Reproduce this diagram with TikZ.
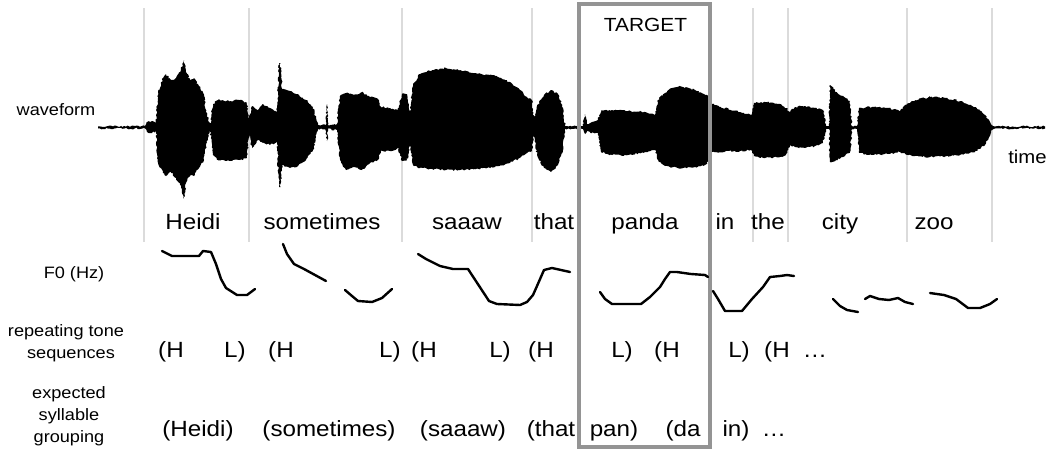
\documentclass[tikz,border=0pt]{standalone}
\usepackage{fontspec}
\setmainfont{Liberation Sans}[FakeStretch=1.1]
\usetikzlibrary{decorations.pathmorphing}
\begin{document}
\begin{tikzpicture}[x=1pt,y=-1pt,
  sepline/.style={draw=black!14, line width=1.6pt},
  bigtxt/.style={font=\fontsize{22}{26}\selectfont, anchor=base, inner sep=0pt},
  lbl/.style={font=\fontsize{16.5}{20}\selectfont, anchor=base, inner sep=0pt},
  contour/.style={draw=black, line width=2.4pt, line join=round, line cap=round},
  wave/.style={fill=black, decorate, decoration={random steps, segment length=1.6pt, amplitude=0.9pt}},
  targetbox/.style={draw=black!42, line width=4.5pt},
]
\pgfmathsetseed{11}
\useasboundingbox (0,0) rectangle (1056,455);

% separators
\foreach \xx in {144,249,402,532,753,788,907,992}
  \draw[sepline] (\xx,8) -- (\xx,242);

% waveform
\path[wave] (98,126.5) -- (145,126) -- (147,122) -- (152,121) -- (156,123) -- (158,92) -- (163,78) -- (166,74) -- (171,80) -- (176,78) -- (181,70) -- (184,60) -- (186,72) -- (190,80) -- (194,78) -- (199,86) -- (204,96) -- (207,115) -- (210,125) -- (213,104) -- (218,100) -- (230,101) -- (240,100) -- (247,103) -- (249,120) -- (252,106) -- (258,110) -- (263,104) -- (270,108) -- (277,112) -- (279,63) -- (280.5,63) -- (282,89) -- (290,91) -- (298,94) -- (306,100) -- (313,107) -- (316,118) -- (318,125) -- (326,125) -- (327,104) -- (328,125) -- (337,124) -- (340,96) -- (346,93) -- (354,95) -- (362,92) -- (370,97) -- (378,99) -- (381,107) -- (390,108) -- (398,110) -- (402,94) -- (407,94) -- (410,112) -- (413,84) -- (420,74) -- (432,70) -- (446,68) -- (460,70) -- (475,73) -- (495,76) -- (510,82) -- (520,90) -- (527,97) -- (532,100) -- (534,120) -- (537,106) -- (544,95) -- (551,90) -- (558,94) -- (563,108) -- (565,126) -- (583,126) -- (585,114) -- (587,124) -- (592,122) -- (598,120) -- (601,110) -- (612,110) -- (628,111) -- (645,112) -- (655,115) -- (658,100) -- (665,93) -- (672,88) -- (681,86.5) -- (695,90) -- (705,95) -- (710,97) -- (712,104) -- (725,108) -- (740,112) -- (751,115) -- (754,103) -- (765,102) -- (780,104) -- (786,108) -- (790,112) -- (795,107) -- (805,106) -- (815,108) -- (823,110) -- (826,126) -- (829,126) -- (830,85) -- (836,92) -- (843,96) -- (850,101) -- (852,126) -- (857,126) -- (859,108) -- (872,107) -- (888,108) -- (900,111) -- (905,105) -- (915,100) -- (930,97) -- (945,98) -- (960,101) -- (975,107) -- (985,115) -- (992,125) -- (995,126.5) -- (1045,126.5)
 -- (1045,128.5) -- (995,128.5) -- (992,130) -- (985,145) -- (975,152) -- (960,155) -- (945,156.5) -- (930,157) -- (915,156) -- (905,154) -- (900,152) -- (888,154) -- (872,155) -- (859,153) -- (857,129) -- (852,129) -- (850,152) -- (843,157) -- (836,160) -- (830,162) -- (829,129) -- (826,129) -- (823,143) -- (815,146) -- (805,148) -- (795,147) -- (790,145) -- (786,155) -- (780,157) -- (765,158) -- (754,156) -- (751,150) -- (740,151) -- (725,151.5) -- (712,152) -- (710,160) -- (705,165) -- (695,167) -- (681,168.5) -- (665,166) -- (658,160) -- (655,150) -- (645,152) -- (628,155) -- (612,155) -- (601,152) -- (598,133) -- (592,133) -- (587,131) -- (585,134) -- (583,129) -- (565,129) -- (563,150) -- (558,165) -- (551,172) -- (544,168) -- (537,155) -- (534,136) -- (532,151) -- (527,153) -- (520,158) -- (510,163) -- (495,167) -- (475,169) -- (460,170) -- (446,170) -- (432,169) -- (420,168) -- (413,165) -- (410,145) -- (407,160) -- (402,161) -- (398,148) -- (390,151) -- (381,151) -- (378,160) -- (370,163) -- (362,170) -- (354,167) -- (346,170) -- (340,160) -- (337,130) -- (328,129) -- (327,141) -- (326,129) -- (318,129) -- (316,137) -- (313,150) -- (306,160) -- (298,166) -- (290,168) -- (282,165) -- (280.5,187) -- (279,187) -- (277,142) -- (270,145) -- (263,143) -- (258,140) -- (252,148) -- (249,135) -- (247,158) -- (240,160) -- (230,161) -- (218,160) -- (213,155) -- (210,130) -- (207,142) -- (204,160) -- (199,168) -- (194,176) -- (190,175) -- (186,183) -- (184,199) -- (181,186) -- (176,178) -- (171,172) -- (166,176) -- (163,173) -- (158,163) -- (156,131) -- (152,133) -- (147,132) -- (145,128.5) -- (98,128.5) -- cycle;

% target box
\draw[targetbox] (579,4) rectangle (710,447);
\node[font=\fontsize{19}{22}\selectfont, anchor=base, inner sep=0pt] (target) at (645.5,31.5) {TARGET};

% left labels
\node[lbl] (labwave) at (56,115) {waveform};
\node[lbl] (labf0) at (74,278) {F0 (Hz)};
\node[lbl] (labrepA) at (66,336) {repeating tone};
\node[lbl] (labrepB) at (71,358) {sequences};
\node[lbl] (labexpA) at (69,398) {expected};
\node[lbl] (labexpB) at (69,420) {syllable};
\node[lbl] (labexpC) at (69,442) {grouping};
\node[font=\fontsize{18.5}{22}\selectfont, anchor=base, inner sep=0pt] (labtime) at (1027.5,163) {time};

% words
\node[bigtxt] (wHeidi) at (193,229) {Heidi};
\node[bigtxt] (wsometimes) at (322,229) {sometimes};
\node[bigtxt] (wsaaaw) at (467,229) {saaaw};
\node[bigtxt] (wthat) at (554,229) {that};
\node[bigtxt] (wpanda) at (645,229) {panda};
\node[bigtxt] (win) at (725,229) {in};
\node[bigtxt] (wthe) at (768,229) {the};
\node[bigtxt] (wcity) at (840,229) {city};
\node[bigtxt] (wzoo) at (934,229) {zoo};

% F0 contours
\draw[contour] (162,251) -- (172,256) -- (199,256) -- (203,251) -- (211,252) -- (216,264) -- (221,279) -- (226,288) -- (237,295) -- (247,295) -- (255,289);
\draw[contour] (283,244) -- (287,254) -- (294,264) -- (304,269) -- (326,281);
\draw[contour] (345,290) -- (352,296) -- (358,301) -- (372,302) -- (382,298) -- (392,289);
\draw[contour] (418,254) -- (426,259) -- (440,266) -- (453,269) -- (468,269) -- (489,301) -- (497,304) -- (520,305) -- (527,302) -- (533,295) -- (537,286) -- (544,270) -- (552,268) -- (570,272);
\draw[contour] (600,292) -- (605,299) -- (612,304) -- (623,304) -- (641,304) -- (650,297) -- (660,287) -- (665,279) -- (670,272) -- (677,272) -- (691,274) -- (705,275) -- (708,277);
\draw[contour] (713,291) -- (718,299) -- (725,311) -- (742,311) -- (752,299) -- (763,287) -- (770,277) -- (780,276) -- (787,275) -- (794,276);
\draw[contour] (833,299) -- (840,306) -- (847,310) -- (858,312);
\draw[contour] (865,299) -- (870,296) -- (879,299) -- (889,300) -- (898,298) -- (905,302) -- (913,304);
\draw[contour] (930,293) -- (944,295) -- (956,299) -- (968,308) -- (980,308) -- (990,304) -- (997,299);

% tone sequences
\node[bigtxt] (t1) at (171,357) {(H};
\node[bigtxt] (t2) at (235,357) {L)};
\node[bigtxt] (t3) at (281,357) {(H};
\node[bigtxt] (t4) at (390,357) {L)};
\node[bigtxt] (t5) at (424,357) {(H};
\node[bigtxt] (t6) at (500,357) {L)};
\node[bigtxt] (t7) at (541,357) {(H};
\node[bigtxt] (t8) at (622,357) {L)};
\node[bigtxt] (t9) at (667,357) {(H};
\node[bigtxt] (t10) at (739,357) {L)};
\node[bigtxt] (t11) at (777,357) {(H};
\node[bigtxt] (t12) at (815,357) {\dots};

% syllable grouping
\node[bigtxt] (g1) at (198,436) {(Heidi)};
\node[bigtxt] (g2) at (329,436) {(sometimes)};
\node[bigtxt] (g3) at (463,436) {(saaaw)};
\node[bigtxt] (g4) at (551,436) {(that};
\node[bigtxt] (g5) at (614,436) {pan)};
\node[bigtxt] (g6) at (683,436) {(da};
\node[bigtxt] (g7) at (736,436) {in)};
\node[bigtxt] (g8) at (774,436) {\dots};
\end{tikzpicture}
\end{document}
